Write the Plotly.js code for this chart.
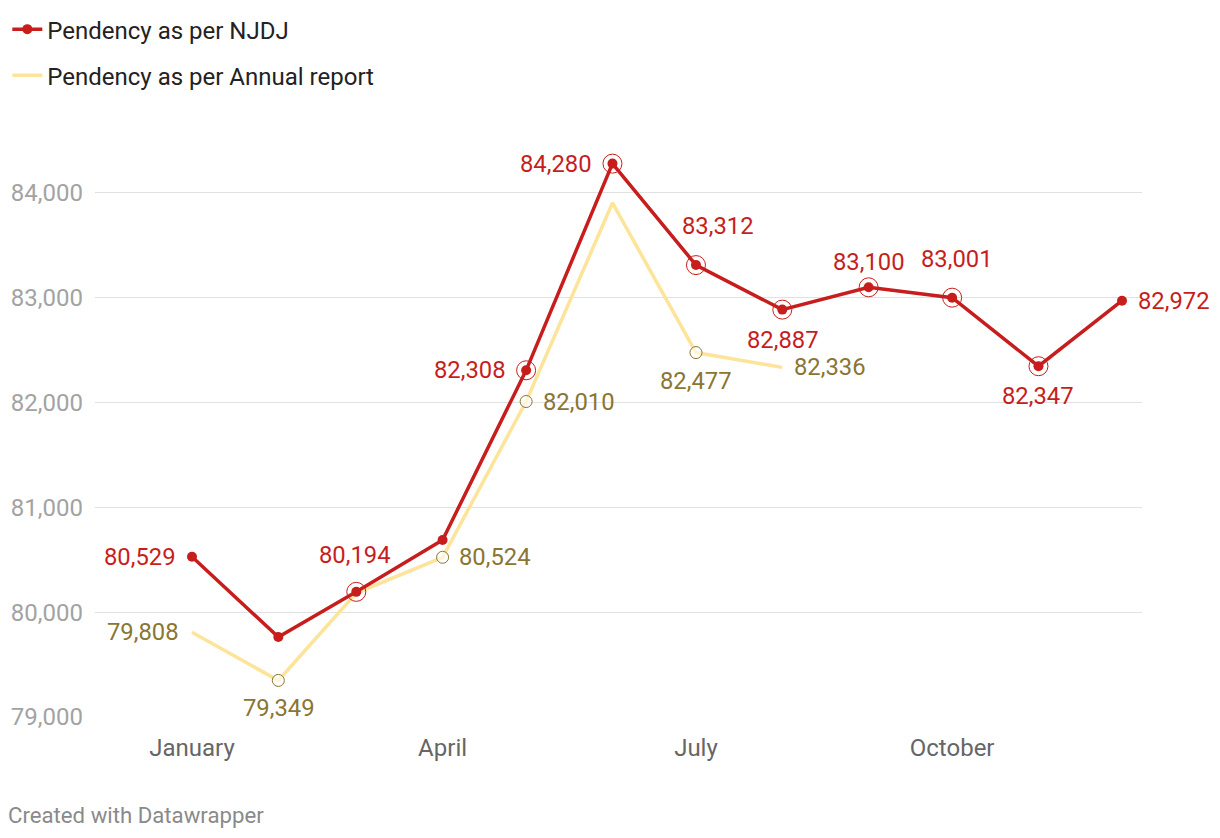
<!DOCTYPE html>
<html>
<head>
<meta charset="utf-8">
<script src="https://cdn.plot.ly/plotly-3.0.1.min.js"></script>
<style>
html,body{margin:0;padding:0;background:#fff;}
#chart{width:1220px;height:838px;}
</style>
</head>
<body>
<div id="chart"></div>
<script>
// ---- data ----
const months = ['January','February','March','April','May','June','July','August','September','October','November','December'];
const monthDates = ['2021-01-01','2021-02-01','2021-03-01','2021-04-01','2021-05-01','2021-06-01','2021-07-01','2021-08-01','2021-09-01','2021-10-01','2021-11-01','2021-12-01'];
const njdjValues = [80529, 79763, 80194, 80689, 82308, 84280, 83312, 82887, 83100, 83001, 82347, 82972];
const annualMonths = ['January','February','March','April','May','June','July','August'];
const annualValues = [79808, 79349, 80183, 80524, 82010, 83905, 82477, 82336];
const njdjRingMonths = ['March','May','June','July','August','September','October','November'];
const annualMarkerMonths = ['February','April','May','July'];
const njdjLabelMonths = ['January','March','May','June','July','August','September','October','November','December'];
const annualLabelMonths = ['January','February','April','May','July','August'];
const xTickMonths = ['January','April','July','October'];

// ---- label placement (style): [anchor, dx px, dy px] ----
const njdjLabelPlace = {
  January:['right',-14,0], March:['center',-1,37], May:['right',-18,0], June:['right',-18,0],
  July:['center',22,39], August:['center',1,-30], September:['center',0,25], October:['center',5,39],
  November:['center',0,-30], December:['left',14,0]
};
const annualLabelPlace = {
  January:['right',-11,0], February:['center',1,-28], April:['left',14,0], May:['left',15,0],
  July:['center',0,-28], August:['left',10,0]
};

const RED = '#c71e1d';
const YELLOW = '#fee49a';
const OLIVE = '#8a7533';
const FONT = 'Roboto, "Open Sans", sans-serif';

const dateOf = m => monthDates[months.indexOf(m)];
function lookup(xs, ys, m){ return ys[xs.indexOf(m)]; }
const fmt = v => v.toLocaleString('en-US');

const traces = [
  {
    x: annualMonths.map(dateOf), y: annualValues, type:'scatter', mode:'lines',
    name:'Pendency as per Annual report', legendgroup:'b', legendrank:2,
    line:{color:YELLOW, width:3.5}, cliponaxis:false, hoverinfo:'skip'
  },
  {
    x: annualMarkerMonths.map(dateOf), y: annualMarkerMonths.map(m=>lookup(annualMonths, annualValues, m)),
    type:'scatter', mode:'markers', showlegend:false,
    marker:{symbol:'circle', size:12, color:'rgba(255,255,255,0.6)', line:{color:OLIVE, width:1}},
    cliponaxis:false, hoverinfo:'skip'
  },
  {
    x: months.map(dateOf), y: njdjValues, type:'scatter', mode:'lines+markers',
    name:'Pendency as per NJDJ', legendgroup:'a', legendrank:1,
    line:{color:RED, width:3.5}, marker:{color:RED, size:10}, cliponaxis:false, hoverinfo:'skip'
  },
  {
    x: njdjRingMonths.map(dateOf), y: njdjRingMonths.map(m=>lookup(months, njdjValues, m)),
    type:'scatter', mode:'markers', showlegend:false,
    marker:{symbol:'circle-open', size:19, color:RED, line:{color:RED, width:1}},
    cliponaxis:false, hoverinfo:'skip'
  }
];

function makeAnn(m, v, place, color){
  return {x:dateOf(m), y:v, xref:'x', yref:'y', text:fmt(v), showarrow:false,
    font:{family:FONT, size:23.8, color:color},
    xanchor:place[0], yanchor:'middle', xshift:place[1], yshift:place[2]};
}

const annotations = [];
njdjLabelMonths.forEach(m=>annotations.push(makeAnn(m, lookup(months, njdjValues, m), njdjLabelPlace[m], RED)));
annualLabelMonths.forEach(m=>annotations.push(makeAnn(m, lookup(annualMonths, annualValues, m), annualLabelPlace[m], OLIVE)));
annotations.push({
  text:'Created with Datawrapper', xref:'paper', yref:'paper', x:-0.0850, y:-0.172,
  xanchor:'left', yanchor:'middle', showarrow:false,
  font:{family:FONT, size:22.2, color:'#8a8a8a'}
});

const layout = {
  width:1220, height:838,
  margin:{l:95, r:78, t:150, b:121, autoexpand:false},
  paper_bgcolor:'#fff', plot_bgcolor:'#fff',
  font:{family:FONT},
  showlegend:true,
  legend:{
    xref:'container', yref:'container',
    x:0.006, y:0.9916, xanchor:'left', yanchor:'top',
    font:{family:FONT, size:24, color:'#222'},
    tracegroupgap:12, traceorder:'grouped', itemwidth:30,
    bgcolor:'rgba(0,0,0,0)'
  },
  xaxis:{
    type:'date',
    range:['2020-11-27 04:00', '2021-12-08 04:20'], automargin:false,
    tickvals:xTickMonths.map(dateOf), ticktext:xTickMonths,
    showgrid:false, zeroline:false, showline:false, ticks:'',
    ticklabelstandoff:14,
    tickfont:{family:FONT, size:24, color:'#666'}
  },
  yaxis:{
    range:[79000, 84410], automargin:false,
    tickvals:[79000,80000,81000,82000,83000,84000],
    tickformat:',d',
    showgrid:true, gridcolor:'#e1e1e1', gridwidth:1,
    zeroline:false, showline:false, ticks:'',
    ticklabelstandoff:11,
    tickfont:{family:FONT, size:24, color:'#a3a3a3'}
  },
  annotations:annotations,
  hovermode:false
};

Plotly.newPlot('chart', traces, layout, {displayModeBar:false, staticPlot:true});
</script>
</body>
</html>
